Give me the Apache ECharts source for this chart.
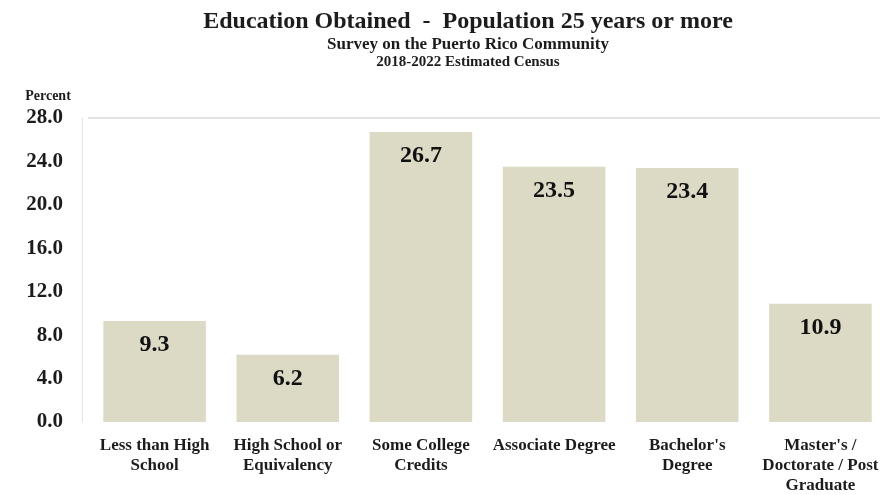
<!DOCTYPE html>
<html>
<head>
<meta charset="utf-8">
<script src="https://cdn.jsdelivr.net/npm/echarts@6/dist/echarts.min.js"></script>
<style>
  html, body { margin: 0; padding: 0; background: #ffffff; }
  #chart { width: 880px; height: 495px; }
</style>
</head>
<body>
<div id="chart"></div>
<script>
// Educational attainment, population 25+ (percent)
const categories = [
  'Less than High\nSchool',
  'High School or\nEquivalency',
  'Some College\nCredits',
  'Associate Degree',
  "Bachelor's\nDegree",
  "Master's /\nDoctorate / Post\nGraduate"
];
const percentValues = [9.3, 6.2, 26.7, 23.5, 23.4, 10.9];
const yTicks = { min: 0, max: 28, interval: 4 };

const serif = '"Liberation Serif", "Times New Roman", serif';
const ink = '#1c1c1c';

const chart = echarts.init(document.getElementById('chart'), null, { renderer: 'canvas' });

// only the top split line is visible, acting as the plot frame's upper edge
const splitColors = [];
for (let v = yTicks.min; v <= yTicks.max; v += yTicks.interval) {
  splitColors.push(v === yTicks.max ? '#e2e2e2' : 'rgba(0,0,0,0)');
}

chart.setOption({
  backgroundColor: '#ffffff',
  animation: false,
  title: [
    {
      text: 'Education Obtained  -  Population 25 years or more',
      left: 463, top: 5, textAlign: 'center',
      textStyle: { fontFamily: serif, fontWeight: 'bold', fontSize: 24, color: ink }
    },
    {
      text: 'Survey on the Puerto Rico Community',
      left: 463, top: 31, textAlign: 'center',
      textStyle: { fontFamily: serif, fontWeight: 'bold', fontSize: 17, color: ink }
    },
    {
      text: '2018-2022 Estimated Census',
      left: 463, top: 50, textAlign: 'center',
      textStyle: { fontFamily: serif, fontWeight: 'bold', fontSize: 15, color: ink }
    },
    {
      text: 'Percent',
      left: 43, top: 84, textAlign: 'center',
      textStyle: { fontFamily: serif, fontWeight: 'bold', fontSize: 14, color: ink }
    }
  ],
  grid: {
    left: 88, top: 118, width: 799, bottom: 73,
    containLabel: false,
    outerBoundsMode: 'none'
  },
  xAxis: {
    type: 'category',
    data: categories,
    axisLine: { show: false },
    axisTick: { show: false },
    axisLabel: {
      interval: 0,
      margin: 14,
      fontFamily: serif,
      fontWeight: 'bold',
      fontSize: 17,
      lineHeight: 20,
      color: ink
    }
  },
  yAxis: {
    type: 'value',
    min: yTicks.min,
    max: yTicks.max,
    interval: yTicks.interval,
    offset: 6,
    axisLine: { show: true, lineStyle: { color: '#e4e4e4', width: 1 } },
    axisTick: { show: false },
    splitLine: { show: true, lineStyle: { color: splitColors, width: 2 } },
    axisLabel: {
      margin: 19,
      fontFamily: serif,
      fontWeight: 'bold',
      fontSize: 21,
      color: ink,
      formatter: v => v.toFixed(1)
    }
  },
  series: [{
    type: 'bar',
    data: percentValues,
    barWidth: '77%',
    itemStyle: { color: '#dcd9c5' },
    label: {
      show: true,
      position: 'insideTop',
      distance: 12,
      fontFamily: serif,
      fontWeight: 'bold',
      fontSize: 24,
      color: '#111111',
      formatter: p => p.value.toFixed(1)
    }
  }]
});
</script>
</body>
</html>
